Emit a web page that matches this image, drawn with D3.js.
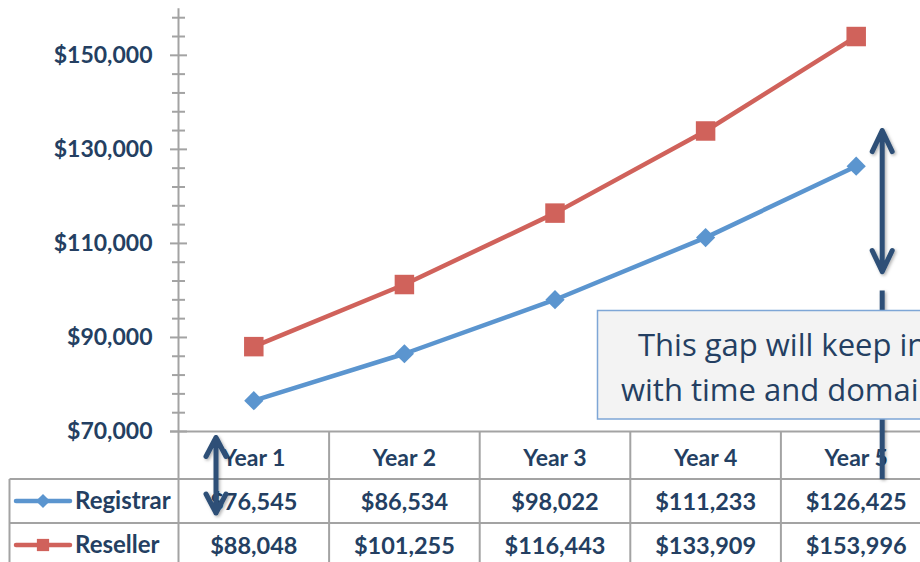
<!DOCTYPE html>
<html>
<head>
<meta charset="utf-8">
<script src="https://cdn.jsdelivr.net/npm/d3@7"></script>
<style>
  body { margin: 0; background: #fff; }
  svg { display: block; font-family: Lato, "Open Sans", sans-serif; }
</style>
</head>
<body>
<div id="chart"></div>
<script>
// chart data
const years = ["Year 1", "Year 2", "Year 3", "Year 4", "Year 5"];
const registrar = [76545, 86534, 98022, 111233, 126425];
const reseller = [88048, 101255, 116443, 133909, 153996];
const majorTicks = [70000, 90000, 110000, 130000, 150000];
const calloutLines = ["This gap will keep increasing", "with time and domain count"];

const seriesList = [
    {name: "Registrar", values: registrar, color: "#5B95CF", marker: "diamond"},
    {name: "Reseller", values: reseller, color: "#D0625B", marker: "square"}
];

const W = 920, H = 562;
const textColor = "#243F62";
const gridColor = "#A3A3A3";
const arrowColor = "#2E5077";

const svg = d3.select("#chart").append("svg")
    .attr("width", W)
    .attr("height", H);

// soft shadow for the arrows (user space so thin vertical lines still render)
const defs = svg.append("defs");
const shadow = defs.append("filter").attr("id", "shadow")
    .attr("filterUnits", "userSpaceOnUse")
    .attr("x", 0).attr("y", 0).attr("width", W).attr("height", H);
shadow.append("feDropShadow")
    .attr("dx", 1.5).attr("dy", 1.5).attr("stdDeviation", 1.5)
    .attr("flood-color", "#000").attr("flood-opacity", 0.3);

// scales
const x = d3.scaleBand().domain(years).range([178.5, 931.5]);
const y = d3.scaleLinear().domain([70000, 160000]).range([431.5, 8.3]);
const xc = d => x(d) + x.bandwidth() / 2;
const money = v => "$" + d3.format(",")(v);

// table geometry (below the x axis)
const headerBottom = y(70000) + 47.5;
const rowH = 44;
const tableLeft = 9.5;

// y axis labels
svg.append("g")
    .attr("transform", `translate(${x.range()[0]},0)`)
    .call(d3.axisLeft(y).tickValues(majorTicks).tickSize(0).tickPadding(26).tickFormat(money))
    .call(g => g.select(".domain").remove())
    .selectAll("text")
    .attr("fill", textColor)
    .style("font-size", "23px")
    .style("font-weight", "bold")
    .style("font-family", "Lato");

// minor + major tick marks
const minorTicks = d3.range(70000, 160000, 4000);
svg.append("g").selectAll("line")
    .data(minorTicks)
    .join("line")
    .attr("x1", d => majorTicks.includes(d) ? 170 : 172)
    .attr("x2", d => majorTicks.includes(d) ? 187 : 185)
    .attr("y1", d => y(d))
    .attr("y2", d => y(d))
    .attr("stroke", gridColor)
    .attr("stroke-width", 2);

// table grid lines
const grid = svg.append("g").attr("stroke", gridColor).attr("stroke-width", 2);
grid.append("line")
    .attr("x1", 170).attr("x2", W)
    .attr("y1", y(70000)).attr("y2", y(70000));
[headerBottom, headerBottom + rowH, headerBottom + 2 * rowH].forEach(ry => {
    grid.append("line")
        .attr("x1", tableLeft).attr("x2", W)
        .attr("y1", ry).attr("y2", ry);
});
grid.append("line")
    .attr("x1", x.range()[0]).attr("x2", x.range()[0])
    .attr("y1", y(160000)).attr("y2", H);
grid.selectAll(".col")
    .data(years.slice(1))
    .join("line")
    .attr("class", "col")
    .attr("x1", d => x(d)).attr("x2", d => x(d))
    .attr("y1", y(70000)).attr("y2", H);
grid.append("line")
    .attr("x1", tableLeft).attr("x2", tableLeft)
    .attr("y1", headerBottom).attr("y2", H);

// header text
svg.append("g").selectAll("text")
    .data(years)
    .join("text")
    .attr("x", d => xc(d))
    .attr("y", y(70000) + 34)
    .attr("text-anchor", "middle")
    .attr("fill", textColor)
    .style("font-size", "23px")
    .style("font-weight", "bold")
    .text(d => d);

// diamonds are squares turned 45 degrees
const markerPath = size => d3.symbol(d3.symbolSquare, size)();

// table rows: legend + values
seriesList.forEach((s, i) => {
    const rowMid = headerBottom + rowH * i + rowH / 2;
    const row = svg.append("g");

    row.append("line")
        .attr("x1", 16).attr("x2", 70)
        .attr("y1", rowMid).attr("y2", rowMid)
        .attr("stroke", s.color)
        .attr("stroke-width", 4.5)
        .attr("stroke-linecap", "round");
    row.append("path")
        .attr("d", markerPath(s.marker === "diamond" ? 100 : 150))
        .attr("transform", `translate(43,${rowMid}) rotate(${s.marker === "diamond" ? 45 : 0})`)
        .attr("fill", s.color);
    row.append("text")
        .attr("x", 75)
        .attr("y", rowMid + 8)
        .attr("fill", textColor)
        .style("font-size", "24px")
        .style("font-weight", "bold")
        .text(s.name);

    row.selectAll(".val")
        .data(s.values)
        .join("text")
        .attr("class", "val")
        .attr("x", (d, j) => xc(years[j]))
        .attr("y", rowMid + 9)
        .attr("text-anchor", "middle")
        .attr("fill", textColor)
        .style("font-size", "23.5px")
        .style("font-weight", "bold")
        .text(d => money(d));
});

// series lines + markers
const line = d3.line()
    .x((d, j) => xc(years[j]))
    .y(d => y(d));

seriesList.forEach(s => {
    svg.append("path")
        .datum(s.values)
        .attr("d", line)
        .attr("fill", "none")
        .attr("stroke", s.color)
        .attr("stroke-width", 4.5)
        .attr("stroke-linejoin", "round");

    svg.append("g").selectAll("path")
        .data(s.values)
        .join("path")
        .attr("d", markerPath(s.marker === "diamond" ? 185 : 380))
        .attr("transform", (d, j) => `translate(${xc(years[j])},${y(d)}) rotate(${s.marker === "diamond" ? 45 : 0})`)
        .attr("fill", s.color);
});

// annotation arrows
function doubleArrow(ax, y1, y2, head) {
    const p = d3.path();
    p.moveTo(ax, y1); p.lineTo(ax, y2);
    p.moveTo(ax - head.w, y1 + head.h); p.lineTo(ax, y1); p.lineTo(ax + head.w, y1 + head.h);
    p.moveTo(ax - head.w, y2 - head.h); p.lineTo(ax, y2); p.lineTo(ax + head.w, y2 - head.h);
    svg.append("path")
        .attr("d", p.toString())
        .attr("fill", "none")
        .attr("stroke", arrowColor)
        .attr("stroke-width", 5)
        .attr("stroke-linecap", "round")
        .attr("stroke-linejoin", "round")
        .attr("filter", "url(#shadow)");
}

const gapX = xc("Year 5") + 26;
doubleArrow(gapX, y(134000), y(104000), {w: 10, h: 21});
doubleArrow(x("Year 1") + 37.5, y(70000) + 6, headerBottom + 34, {w: 10, h: 19});

// connector line behind the callout
svg.append("line")
    .attr("x1", gapX).attr("x2", gapX)
    .attr("y1", y(100000)).attr("y2", headerBottom)
    .attr("stroke", arrowColor)
    .attr("stroke-width", 5)
    .attr("filter", "url(#shadow)");

// callout box
const callout = svg.append("g");
callout.append("rect")
    .attr("x", 597.5).attr("y", 310.5)
    .attr("width", 420).attr("height", 108.5)
    .attr("fill", "#F3F3F3")
    .attr("stroke", "#7EA6D6")
    .attr("stroke-width", 1.5);
callout.selectAll("text")
    .data(calloutLines)
    .join("text")
    .attr("x", (d, i) => i === 0 ? 638 : 621)
    .attr("y", (d, i) => 356 + i * 45)
    .attr("fill", textColor)
    .style("font-family", "'Open Sans', sans-serif")
    .style("font-size", "31px")
    .text(d => d);
</script>
</body>
</html>
